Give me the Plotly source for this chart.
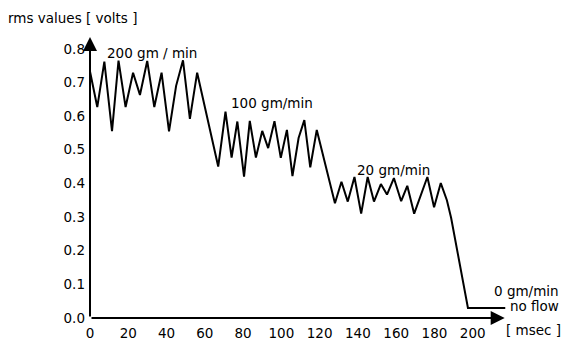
import plotly.graph_objects as go

# time [msec] and rms values [volts]
t_ms = [0, 3.8, 7.5, 11.5, 14.9, 18.6, 22.5, 26.1, 29.9, 33.6, 37.4, 41.3, 45, 48.6, 52.2, 56,
        67, 70.8, 74, 77, 80.5, 83.5, 86.7, 90, 93.1, 96.4, 99.7, 102.9, 105.8, 109, 112, 115.1, 118.5,
        128, 131.4, 134.7, 138.2, 141.7, 145.1, 148.4, 152, 155.2, 158.8, 162.6, 165.8, 169.4,
        176.3, 179.8, 183.3, 186.5, 188.7, 197.5, 217]
rms_v = [0.733, 0.627, 0.762, 0.555, 0.765, 0.627, 0.729, 0.663, 0.764, 0.627, 0.729, 0.555, 0.69, 0.766, 0.592, 0.729,
         0.45, 0.613, 0.477, 0.584, 0.42, 0.586, 0.477, 0.556, 0.505, 0.585, 0.476, 0.559, 0.422, 0.535, 0.588, 0.448, 0.559,
         0.341, 0.405, 0.346, 0.419, 0.31, 0.419, 0.346, 0.398, 0.367, 0.416, 0.347, 0.393, 0.31,
         0.419, 0.329, 0.401, 0.35, 0.298, 0.03, 0.03]

x_ticks = [0, 20, 40, 60, 80, 100, 120, 140, 160, 180, 200]
y_ticks = [0.0, 0.1, 0.2, 0.3, 0.4, 0.5, 0.6, 0.7, 0.8]
y_tick_text = ["0.0", "0.1", "0.2", "0.3", "0.4", "0.5", "0.6", "0.7", "0.8"]

FONT = "DejaVu Sans, sans-serif"
FS = 13.5

fig = go.Figure()
fig.add_trace(go.Scatter(x=t_ms, y=rms_v, mode="lines",
                         line=dict(color="black", width=2), cliponaxis=False,
                         hoverinfo="skip"))

annos = []
# axes arrows
annos.append(dict(x=216.7, y=0, ax=0, ay=0, xref="x", yref="y", axref="x", ayref="y",
                  showarrow=True, arrowhead=2, arrowsize=1.4, arrowwidth=2, arrowcolor="black", text=""))
annos.append(dict(x=0, y=0.835, ax=0, ay=0, xref="x", yref="y", axref="x", ayref="y",
                  showarrow=True, arrowhead=2, arrowsize=1.4, arrowwidth=2, arrowcolor="black", text=""))

data_labels = [
    ("200 gm / min", 32.4, 0.788, "center"),
    ("100 gm/min", 95, 0.64, "center"),
    ("20 gm/min", 158.5, 0.439, "center"),
]
for txt, x, y, xa in data_labels:
    annos.append(dict(x=x, y=y, xref="x", yref="y", text=txt, showarrow=False,
                      xanchor=xa, yanchor="middle", font=dict(family=FONT, size=FS, color="black")))

paper_labels = [
    ("0 gm/min", 1.118, 0.0959, "right"),
    ("no flow", 1.118, 0.0411, "right"),
    ("[ msec ]", 1.0534, -0.042, "center"),
    ("rms values [ volts ]", -0.1995, 1.048, "left"),
]
for txt, x, y, xa in paper_labels:
    annos.append(dict(x=x, y=y, xref="paper", yref="paper", text=txt, showarrow=False,
                      xanchor=xa, yanchor="middle", font=dict(family=FONT, size=FS, color="black")))

fig.update_layout(
    width=563, height=353,
    margin=dict(l=90, r=52, t=32, b=29),
    paper_bgcolor="white", plot_bgcolor="white",
    showlegend=False,
    annotations=annos,
    font=dict(family=FONT, size=FS, color="black"),
    xaxis=dict(range=[0, 220], tickvals=x_ticks, ticktext=[str(v) for v in x_ticks],
               showgrid=False, zeroline=False, showline=False, ticks="", ticklen=0,
               ticklabelstandoff=5,
               tickfont=dict(family=FONT, size=FS, color="black")),
    yaxis=dict(range=[0, 0.85], tickvals=y_ticks, ticktext=y_tick_text,
               showgrid=False, zeroline=False, showline=False, ticks="",
               ticklabelstandoff=4,
               tickfont=dict(family=FONT, size=FS, color="black")),
)

fig.write_html("out.html")
